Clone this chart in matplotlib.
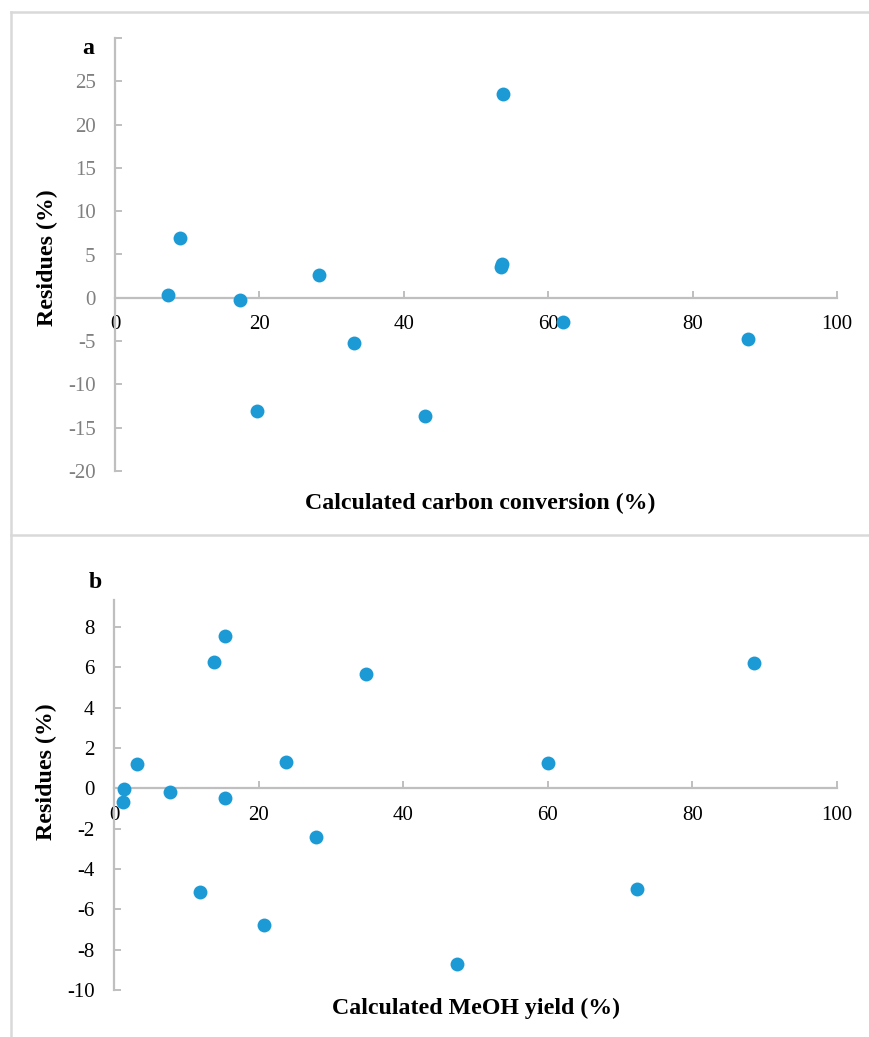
import matplotlib
matplotlib.use("Agg")
import matplotlib.pyplot as plt
from matplotlib.lines import Line2D

plt.rcParams['font.family'] = ['Liberation Serif', 'DejaVu Serif']

# Panel a: calculated carbon conversion vs residues
conv_x = [7.35, 9.0, 17.3, 19.7, 28.2, 33.1, 43.0, 53.8, 53.6, 53.5, 62.0, 87.7]
conv_res = [0.3, 6.9, -0.27, -13.1, 2.6, -5.25, -13.6, 23.5, 3.9, 3.6, -2.8, -4.8]

# Panel b: calculated MeOH yield vs residues
meoh_x = [1.4, 1.25, 3.2, 7.7, 11.9, 13.8, 15.35, 15.4, 20.7, 23.8, 27.9, 34.8, 47.4, 60.0, 72.4, 88.5]
meoh_res = [-0.03, -0.67, 1.19, -0.17, -5.14, 6.28, -0.47, 7.57, -6.79, 1.3, -2.4, 5.67, -8.71, 1.24, -4.99, 6.2]

x_ticks = [0, 20, 40, 60, 80, 100]
a_yticks = [-20, -15, -10, -5, 0, 5, 10, 15, 20, 25, 30]
a_ylabels = ['-20', '-15', '-10', '-5', '0', '5', '10', '15', '20', '25', '']
b_yticks = [-10, -8, -6, -4, -2, 0, 2, 4, 6, 8]

W, H = 869, 1037
fig = plt.figure(figsize=(W / 100, H / 100), dpi=100)

dot = '#1C9AD6'
axis_col = '#BFBFBF'
fs = 15


def px(x0, y0, x1, y1):
    return [x0 / W, 1 - y1 / H, (x1 - x0) / W, (y1 - y0) / H]


def style(ax, ylab_color):
    for s in ['top', 'right']:
        ax.spines[s].set_visible(False)
    ax.spines['bottom'].set_position(('data', 0))
    for s in ['left', 'bottom']:
        ax.spines[s].set_color(axis_col)
        ax.spines[s].set_linewidth(1.6)
    ax.tick_params(axis='both', direction='in', length=5, width=1.4, color=axis_col, labelsize=fs)
    ax.tick_params(axis='x', pad=12.5, labelcolor='black')
    ax.tick_params(axis='y', pad=14, labelcolor=ylab_color)
    ax.set_xlim(0, 100)
    ax.set_xticks(x_ticks)
    ax.set_xticklabels([str(t) for t in x_ticks])


# panel a
ax1 = fig.add_axes(px(115, 38, 837, 471))
ax1.scatter(conv_x, conv_res, s=100, color=dot, zorder=3, clip_on=False, linewidths=0)
ax1.set_ylim(-20, 30)
ax1.set_yticks(a_yticks)
ax1.set_yticklabels(a_ylabels)
style(ax1, '#808080')

# panel b
ax2 = fig.add_axes(px(114, 600, 837, 990))
ax2.scatter(meoh_x, meoh_res, s=100, color=dot, zorder=3, clip_on=False, linewidths=0)
ax2.set_ylim(-10, 9.33)
ax2.set_yticks(b_yticks)
ax2.set_yticklabels([str(t) for t in b_yticks])
style(ax2, 'black')

lab_fs = 17.2
fig.text(88 / W, 1 - 48 / H, 'a', fontsize=lab_fs, fontweight='bold', ha='center', va='center')
fig.text(95 / W, 1 - 583 / H, 'b', fontsize=lab_fs, fontweight='bold', ha='center', va='center')
fig.text(47 / W, 1 - 258 / H, 'Residues (%)', fontsize=lab_fs, fontweight='bold', rotation=90,
         ha='center', va='center')
fig.text(46 / W, 1 - 772 / H, 'Residues (%)', fontsize=lab_fs, fontweight='bold', rotation=90,
         ha='center', va='center')
fig.text(480 / W, 1 - 503 / H, 'Calculated carbon conversion (%)', fontsize=lab_fs, fontweight='bold',
         ha='center', va='center')
fig.text(476 / W, 1 - 1008 / H, 'Calculated MeOH yield (%)', fontsize=lab_fs, fontweight='bold',
         ha='center', va='center')

# panel frames
frame_col = '#D9D9D9'
fig.add_artist(Line2D([11 / W, 1], [1 - 11.5 / H, 1 - 11.5 / H], color=frame_col, lw=1.8))
fig.add_artist(Line2D([11 / W, 1], [1 - 534.5 / H, 1 - 534.5 / H], color=frame_col, lw=1.8))
fig.add_artist(Line2D([11 / W, 11 / W], [0, 1 - 11.5 / H], color=frame_col, lw=1.8))

fig.savefig('out.png', dpi=100)
